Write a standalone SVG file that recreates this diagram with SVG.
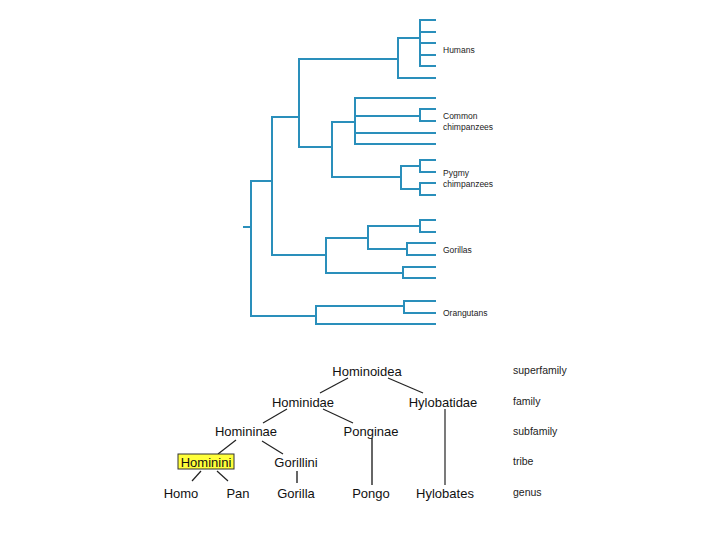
<svg xmlns="http://www.w3.org/2000/svg" width="720" height="540" viewBox="0 0 720 540">
<style>
.tree{fill:none;stroke:#2a8fbb;stroke-width:2;stroke-linecap:square}
.cl{font-family:"Liberation Sans",Arial,sans-serif;font-size:8.5px;fill:#222}
.tx{font-family:"Liberation Sans",Arial,sans-serif;font-size:13px;fill:#111;text-anchor:middle}
.rk{font-family:"Liberation Sans",Arial,sans-serif;font-size:10.5px;fill:#222}
.ln{fill:none;stroke:#222;stroke-width:1.2}
.gl{fill:none;stroke:#666;stroke-width:2}
</style>
<rect width="720" height="540" fill="#fff"/>
<g id="connectors">
<g id="tree" class="tree">
<path d="M244,227H251M251,181V316M251,181H272M251,316H316"/>
<path d="M272,117V255M272,117H299M272,255H326"/>
<path d="M299,59V147M299,59H398M299,147H332"/>
<path d="M398,38V78M398,38H420M398,78H435"/>
<path d="M420,20V66M420,20H435M420,32H435M420,43H435M420,55H435M420,66H435"/>
<path d="M332,122V177M332,122H355M332,177H401"/>
<path d="M355,98V144M355,98H435M355,116H420M355,133H435M355,144H435"/>
<path d="M420,109V121M420,109H435M420,121H435"/>
<path d="M401,166V189M401,166H420M401,189H420"/>
<path d="M420,160V172M420,160H435M420,172H435M420,183V195M420,183H435M420,195H435"/>
<path d="M326,238V273M326,238H368M326,273H403"/>
<path d="M368,226V249M368,226H420M368,249H407"/>
<path d="M420,220V232M420,220H435M420,232H435"/>
<path d="M407,243V255M407,243H435M407,255H435"/>
<path d="M403,267V278M403,267H435M403,278H435"/>
<path d="M316,306V324M316,306H404M316,324H435"/>
<path d="M404,301V313M404,301H435M404,313H435"/>
</g>
<g id="taxonomy-lines">
<path class="ln" d="M348,378L320,393"/>
<path class="ln" d="M388,378L423,393"/>
<path class="ln" d="M287,409L263,423"/>
<path class="ln" d="M323,409L353,423"/>
<path class="ln" d="M236,440L218,454"/>
<path class="ln" d="M262,441L283,454"/>
<path class="ln" d="M201,471L192,481"/>
<path class="ln" d="M217,471L228,481"/>
<path class="gl" d="M297,471V483"/>
<path class="gl" d="M372,438V485"/>
<path class="ln" d="M445,409V485"/>
</g>
</g>
<g id="clade-labels">
<text class="cl" x="443" y="53">Humans</text>
<text class="cl" x="443" y="119">Common</text>
<text class="cl" x="443" y="130">chimpanzees</text>
<text class="cl" x="443" y="176">Pygmy</text>
<text class="cl" x="443" y="187">chimpanzees</text>
<text class="cl" x="443" y="253">Gorillas</text>
<text class="cl" x="443" y="316">Orangutans</text>
</g>
<g id="hominoidea"><text class="tx" x="367" y="376">Hominoidea</text></g>
<g id="hominidae"><text class="tx" x="303" y="407">Hominidae</text></g>
<g id="hylobatidae"><text class="tx" x="443" y="407">Hylobatidae</text></g>
<g id="homininae"><text class="tx" x="246" y="436">Homininae</text></g>
<g id="ponginae"><text class="tx" x="371" y="436">Ponginae</text></g>
<g id="hominini"><rect x="178" y="454" width="56" height="15" fill="#ffff3a" stroke="#333" stroke-width="1"/><text class="tx" x="206" y="467">Hominini</text></g>
<g id="gorillini"><text class="tx" x="296" y="467">Gorillini</text></g>
<g id="homo"><text class="tx" x="181" y="498">Homo</text></g>
<g id="pan"><text class="tx" x="238" y="498">Pan</text></g>
<g id="gorilla"><text class="tx" x="296" y="498">Gorilla</text></g>
<g id="pongo"><text class="tx" x="371" y="498">Pongo</text></g>
<g id="hylobates"><text class="tx" x="445" y="498">Hylobates</text></g>
<g id="ranks">
<text class="rk" x="513" y="374">superfamily</text>
<text class="rk" x="513" y="405">family</text>
<text class="rk" x="513" y="435">subfamily</text>
<text class="rk" x="513" y="465">tribe</text>
<text class="rk" x="513" y="496">genus</text>
</g>
</svg>
